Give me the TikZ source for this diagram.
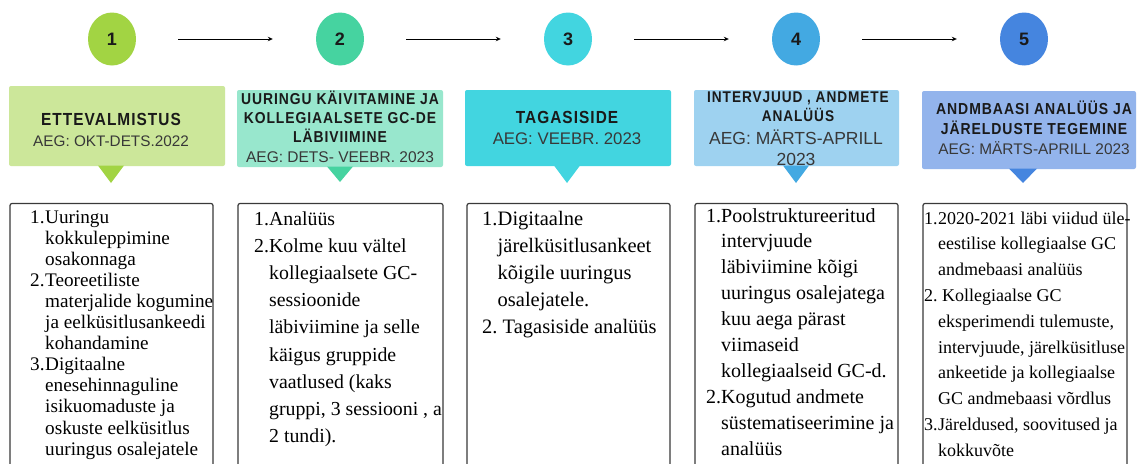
\documentclass[tikz,border=0pt]{standalone}
\usepackage{fontspec}
\setmainfont{Liberation Serif}
\newfontfamily\titlefont{Liberation Sans}[FakeStretch=0.88,LetterSpace=6]
\newfontfamily\datefont{Liberation Sans}
\usetikzlibrary{shapes.geometric,arrows.meta}
\definecolor{c1}{HTML}{A2D443}
\definecolor{c2}{HTML}{46D3A0}
\definecolor{c3}{HTML}{42D5E0}
\definecolor{c4}{HTML}{43A9E2}
\definecolor{c5}{HTML}{4585DF}
\definecolor{b1}{HTML}{CCE79A}
\definecolor{b2}{HTML}{98E7CD}
\definecolor{b3}{HTML}{42D5E0}
\definecolor{b4}{HTML}{9ED2F0}
\definecolor{b5}{HTML}{93B4EC}
\definecolor{ttl}{HTML}{1A1A1A}
\definecolor{dt}{HTML}{383838}
\definecolor{brd}{HTML}{3A3A3A}
\newcommand\lnum[2][15pt]{\makebox[#1][l]{#2}}
\newcommand\lind[1][15pt]{\hspace*{#1}}
\newcommand\lst[3]{\vtop{\hsize=260pt\parindent=0pt\fontsize{#1}{#2}\selectfont\raggedright #3}}
\begin{document}
\begin{tikzpicture}[x=1pt,y=-1pt,
  circ/.style={ellipse,inner sep=0pt,minimum width=48pt,minimum height=53pt,
    font=\datefont\bfseries\fontsize{18}{18}\selectfont,text=ttl},
  arr/.style={-{Stealth[length=5pt,width=4.5pt]},line width=1pt,black,
    shorten <=42pt,shorten >=43pt},
  hbox/.style={rectangle,rounded corners=2pt,inner sep=0pt},
  lbox/.style={rectangle,draw=brd,line width=1.2pt,rounded corners=2pt,inner sep=0pt},
  ttxt/.style={anchor=base,inner sep=0pt,text=ttl},
  dtxt/.style={anchor=base,inner sep=0pt,text=dt},
  ltxt/.style={anchor=base west,inner sep=0pt,text=black}]
\useasboundingbox[fill=white] (0,0) rectangle (1140,463);

% circles
\node[circ,fill=c1] (n1) at (112,39) {1};
\node[circ,fill=c2] (n2) at (340,39) {2};
\node[circ,fill=c3] (n3) at (568,39) {3};
\node[circ,fill=c4] (n4) at (796,39) {4};
\node[circ,fill=c5] (n5) at (1024,39) {5};
\draw[arr] (n1) -- (n2);
\draw[arr] (n2) -- (n3);
\draw[arr] (n3) -- (n4);
\draw[arr] (n4) -- (n5);

% header boxes
\node[hbox,fill=b1,minimum width=216pt,minimum height=80pt] (h1) at (117,126) {};
\node[hbox,fill=b2,minimum width=206pt,minimum height=77pt] (h2) at (340,128.5) {};
\node[hbox,fill=b3,minimum width=206pt,minimum height=76pt] (h3) at (568,128) {};
\node[hbox,fill=b4,minimum width=205pt,minimum height=76pt] (h4) at (796.5,128) {};
\node[hbox,fill=b5,minimum width=214pt,minimum height=78pt] (h5) at (1029,130) {};
\fill[c1] (98,165.5) -- (124,165.5) -- (111,183) -- cycle;
\fill[c2] (327,166.5) -- (353,166.5) -- (340,182) -- cycle;
\fill[c3] (554,165.5) -- (580,165.5) -- (567,183) -- cycle;
\fill[c4] (783,165.5) -- (809,165.5) -- (796,183) -- cycle;
\fill[c5] (1009,168.5) -- (1037,168.5) -- (1023,183) -- cycle;

% header texts
\node[ttxt,font=\titlefont\bfseries\fontsize{17.5}{17.5}\selectfont] (h1a) at (111,125) {ETTEVALMISTUS};
\node[dtxt,font=\datefont\fontsize{15.3}{15.3}\selectfont] (h1b) at (111,146) {AEG: OKT-DETS.2022};

\node[ttxt,font=\titlefont\bfseries\fontsize{15.8}{15.8}\selectfont] (h2a) at (340,104.5) {UURINGU KÄIVITAMINE JA};
\node[ttxt,font=\titlefont\bfseries\fontsize{15.8}{15.8}\selectfont] (h2b) at (340,123.5) {KOLLEGIAALSETE GC-DE};
\node[ttxt,font=\titlefont\bfseries\fontsize{15.8}{15.8}\selectfont] (h2c) at (340,142.5) {LÄBIVIIMINE};
\node[dtxt,font=\datefont\fontsize{15.5}{15.5}\selectfont] (h2d) at (340,162) {AEG: DETS- VEEBR. 2023};

\node[ttxt,font=\titlefont\bfseries\fontsize{17.5}{17.5}\selectfont] (h3a) at (567,123) {TAGASISIDE};
\node[dtxt,font=\datefont\fontsize{16.8}{16.8}\selectfont] (h3b) at (567,144) {AEG: VEEBR. 2023};

\node[ttxt,font=\titlefont\bfseries\fontsize{15.5}{15.5}\selectfont] (h4a) at (798,102.5) {INTERVJUUD , ANDMETE};
\node[ttxt,font=\titlefont\bfseries\fontsize{15.5}{15.5}\selectfont] (h4b) at (798,121) {ANALÜÜS};
\node[dtxt,font=\datefont\fontsize{17.5}{17.5}\selectfont] (h4c) at (796,144) {AEG: MÄRTS-APRILL};
\node[dtxt,font=\datefont\fontsize{17.5}{17.5}\selectfont] (h4d) at (796,165) {2023};

\node[ttxt,font=\titlefont\bfseries\fontsize{15.9}{15.9}\selectfont] (h5a) at (1034,114) {ANDMBAASI ANALÜÜS JA};
\node[ttxt,font=\titlefont\bfseries\fontsize{15.9}{15.9}\selectfont] (h5b) at (1034,134) {JÄRELDUSTE TEGEMINE};
\node[dtxt,font=\datefont\fontsize{15.4}{15.4}\selectfont] (h5c) at (1034,154) {AEG: MÄRTS-APRILL 2023};

% lower boxes
\node[lbox,minimum width=203pt,minimum height=277pt] (l1) at (111.5,342) {};
\node[lbox,minimum width=205pt,minimum height=277pt] (l2) at (340.5,342) {};
\node[lbox,minimum width=203pt,minimum height=277pt] (l3) at (568.5,342) {};
\node[lbox,minimum width=203pt,minimum height=277pt] (l4) at (796.5,342) {};
\node[lbox,minimum width=204pt,minimum height=277pt] (l5) at (1025,342) {};

% lower texts
\node[ltxt] (t1) at (30,223) {\lst{19.2}{21.1}{%
\lnum{1.}Uuringu\\
\lind kokkuleppimine\\
\lind osakonnaga\\
\lnum{2.}Teoreetiliste\\
\lind materjalide kogumine\\
\lind ja eelküsitlusankeedi\\
\lind kohandamine\\
\lnum{3.}Digitaalne\\
\lind enesehinnaguline\\
\lind isikuomaduste ja\\
\lind oskuste eelküsitlus\\
\lind uuringus osalejatele}};

\node[ltxt] (t2) at (254,225) {\lst{19.8}{27.2}{%
\lnum{1.}Analüüs\\
\lnum{2.}Kolme kuu vältel\\
\lind kollegiaalsete GC-\\
\lind sessioonide\\
\lind läbiviimine ja selle\\
\lind käigus gruppide\\
\lind vaatlused (kaks\\
\lind gruppi, 3 sessiooni , a\\
\lind 2 tundi).}};

\node[ltxt] (t3) at (482,225) {\lst{20.5}{27}{%
\lnum[15.5pt]{1.}Digitaalne\\
\lind[15.5pt]järelküsitlusankeet\\
\lind[15.5pt]kõigile uuringus\\
\lind[15.5pt]osalejatele.\\
2.\ Tagasiside analüüs}};

\node[ltxt] (t4) at (706,222) {\lst{20}{25.9}{%
\lnum{1.}Poolstruktureeritud\\
\lind intervjuude\\
\lind läbiviimine kõigi\\
\lind uuringus osalejatega\\
\lind kuu aega pärast\\
\lind viimaseid\\
\lind kollegiaalseid GC-d.\\
\lnum{2.}Kogutud andmete\\
\lind süstematiseerimine ja\\
\lind analüüs}};

\node[ltxt] (t5) at (924,224) {\lst{18}{25.8}{%
\lnum[14pt]{1.}2020-2021 läbi viidud üle-\\
\lind[14pt]eestilise kollegiaalse GC\\
\lind[14pt]andmebaasi analüüs\\
2.\ Kollegiaalse GC\\
\lind[14pt]eksperimendi tulemuste,\\
\lind[14pt]intervjuude, järelküsitluse\\
\lind[14pt]ankeetide ja kollegiaalse\\
\lind[14pt]GC andmebaasi võrdlus\\
\lnum[14pt]{3.}Järeldused, soovitused ja\\
\lind[14pt]kokkuvõte}};
\end{tikzpicture}
\end{document}
